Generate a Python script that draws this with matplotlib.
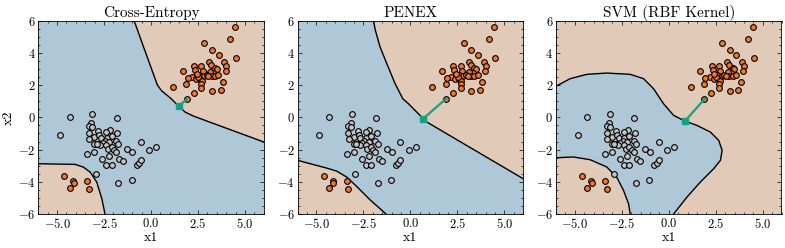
import numpy as np
import matplotlib
matplotlib.use("Agg")
import matplotlib.pyplot as plt
from matplotlib.ticker import MultipleLocator

plt.rcParams.update({
    "font.family": "serif",
    "font.serif": ["cmr10"],
    "mathtext.fontset": "cm",
    "axes.formatter.use_mathtext": True,
    "axes.unicode_minus": True,
})

# ---------------- data ----------------
orange_x = [4.47, 4.20, 2.84, 3.24, 3.60, 4.52, 3.10, 3.90, 3.21, 2.29, 2.68, 3.40, 4.01,
            1.68, 2.34, 2.75, 3.49, 3.97, 3.31, 3.14, 2.57, 2.82, 2.18, 1.95, 2.39, 2.61,
            3.23, 3.40, 3.58, 2.71, 2.68, 1.88, 3.83, 1.17, 2.68, 2.27, 3.24, 3.71, 1.90,
            2.51, 2.96, 3.05, 2.43,
            -4.61, -4.13, -4.10, -4.33, -3.39, -3.30]
orange_y = [5.61, 4.89, 4.62, 4.20, 3.89, 3.68, 3.42, 3.44, 3.23, 3.19, 3.17, 3.06, 3.17,
            2.86, 2.92, 2.88, 3.00, 2.90, 2.75, 2.82, 2.65, 2.57, 2.53, 2.44, 2.36, 2.38,
            2.59, 2.59, 2.65, 2.26, 2.09, 2.05, 2.22, 1.90, 1.82, 1.51, 1.64, 1.70, 1.12,
            2.51, 2.61, 2.55, 2.67,
            -3.64, -3.98, -4.08, -4.37, -3.93, -4.47]

grey_x = [-4.33, -4.84, -3.12, -1.83, -3.19, -3.30, -3.14, -3.30, -2.80, -2.18, -2.39, -1.79,
          -3.01, -2.75, -2.66, -3.28, -2.36, -2.09, -2.45, -2.22, -1.86, -1.74, -3.03, -2.80,
          -2.57, -2.71, -2.39, -2.30, -2.89, -2.09, -1.97, -1.86, -3.39, -3.01, -1.26, -0.99,
          -0.53, -0.09, 0.27, -2.59, -2.22, -2.39, -2.09, -1.68, -1.51, -0.76, -0.64, -0.53,
          -2.94, -1.74, -1.03]
grey_y = [0.04, -1.08, 0.19, -0.02, -0.33, -0.56, -0.60, -0.99, -0.85, -0.77, -0.91, -0.95,
          -1.22, -1.08, -1.28, -1.33, -1.26, -1.18, -1.47, -1.53, -1.47, -1.64, -1.64, -1.64,
          -1.59, -1.70, -1.74, -1.95, -1.66, -1.84, -2.05, -2.15, -2.26, -2.15, -1.95, -2.15,
          -1.53, -2.01, -1.86, -2.57, -2.42, -2.98, -2.98, -2.57, -2.73, -2.98, -2.84, -2.67,
          -3.50, -4.06, -3.91]

titles = ["Cross-Entropy", "PENEX", "SVM (RBF Kernel)"]

# support point and closest boundary point per model
support_pt = [(1.90, 1.12), (1.88, 1.14), (1.91, 1.14)]
boundary_pt = [(1.47, 0.70), (0.68, -0.08), (0.86, -0.23)]

# decision boundaries (upper boundary / lower-left boundary)
ce_upper_x = [-0.90, -0.50, -0.05, 0.34, 0.57, 1.01, 1.47, 1.81, 2.25, 6.0]
ce_upper_y = [6.0, 4.70, 3.25, 2.00, 1.64, 1.22, 0.70, 0.33, 0.08, -1.53]
ce_lower_x = [-6.0, -4.04, -3.60, -3.24, -2.89, -2.62, -2.45]
ce_lower_y = [-2.88, -2.92, -3.09, -3.40, -4.02, -5.05, -6.0]

px_upper_x = [-1.97, -1.87, -1.62, -1.26, -0.82, -0.41, -0.11, 0.68, 0.87, 6.0]
px_upper_y = [6.0, 5.42, 4.38, 3.34, 2.10, 1.16, 0.85, -0.08, -0.29, -3.81]
px_lower_x = [-6.0, -4.46, -3.92, -3.39, -2.86, -2.15, -1.30]
px_lower_y = [-2.67, -3.15, -3.34, -3.71, -4.29, -5.12, -6.0]

svm_outer_x = [-6.0, -5.25, -4.36, -3.30, -2.05, -1.34, -0.81, -0.28, 0.26, 0.86, 1.50,
               2.21, 2.66, 2.84, 2.75, 2.39, 1.68, 0.97, 0.26]
svm_outer_y = [1.93, 2.40, 2.67, 2.75, 2.67, 2.40, 1.78, 0.85, 0.12, -0.23, -0.50,
               -0.91, -1.43, -2.05, -2.67, -3.19, -4.02, -4.95, -6.0]
svm_inner_x = [-6.0, -5.09, -4.18, -3.30, -2.77, -2.41, -2.14, -2.05]
svm_inner_y = [-2.51, -2.46, -2.63, -3.08, -3.71, -4.53, -5.36, -6.0]

BLUE = "#afc8d7"
SALMON = "#e2cab9"
TEAL = "#17a084"
ORANGE = "#f5782a"
GREY = "#c4c4c4"

W, H = 785, 248
fig = plt.figure(figsize=(W / 100, H / 100), dpi=100)
lefts = [38.3, 297.7, 556.0]
aw = 225.5
bottom = (H - 214.0) / H
ah = (214.0 - 20.7) / H
axes = [fig.add_axes([l / W, bottom, aw / W, ah]) for l in lefts]


def blue_polygon_two(upper_x, upper_y, lower_x, lower_y):
    # region between upper boundary (top -> right edge) and lower-left boundary
    px = list(upper_x) + [6.0, lower_x[-1]] + list(lower_x[::-1]) + [-6.0, upper_x[0]]
    py = list(upper_y) + [-6.0, -6.0] + list(lower_y[::-1]) + [6.0, 6.0]
    return px, py


for i, ax in enumerate(axes):
    ax.set_xlim(-6, 6)
    ax.set_ylim(-6, 6)
    if i < 2:
        ax.set_facecolor(SALMON)
        if i == 0:
            ux, uy, lx, ly = ce_upper_x, ce_upper_y, ce_lower_x, ce_lower_y
        else:
            ux, uy, lx, ly = px_upper_x, px_upper_y, px_lower_x, px_lower_y
        bx, by = blue_polygon_two(ux, uy, lx, ly)
        ax.fill(bx, by, color=BLUE, lw=0, zorder=0.5)
        ax.plot(ux, uy, color="black", lw=1.0, zorder=1)
        ax.plot(lx, ly, color="black", lw=1.0, zorder=1)
    else:
        ax.set_facecolor(SALMON)
        bx = list(svm_outer_x) + list(svm_inner_x[::-1])
        by = list(svm_outer_y) + list(svm_inner_y[::-1])
        ax.fill(bx, by, color=BLUE, lw=0, zorder=0.5)
        ax.plot(svm_outer_x, svm_outer_y, color="black", lw=1.0, zorder=1)
        ax.plot(svm_inner_x, svm_inner_y, color="black", lw=1.0, zorder=1)

    ax.scatter(grey_x, grey_y, s=17, c=GREY, edgecolors="black", linewidths=0.8, zorder=3)
    ax.scatter(orange_x, orange_y, s=17, c=ORANGE, edgecolors="black", linewidths=0.8, zorder=3)

    sx, sy = support_pt[i]
    bxp, byp = boundary_pt[i]
    ax.plot([sx, bxp], [sy, byp], color=TEAL, lw=1.6, zorder=4)
    ax.plot([bxp], [byp], marker="s", ms=5, color=TEAL, zorder=5)

    ax.set_title(titles[i], fontsize=11, pad=3)
    ax.set_xlabel("x1", fontsize=10, labelpad=1)
    if i == 0:
        ax.set_ylabel("x2", fontsize=10, labelpad=2)
    ax.xaxis.set_major_locator(MultipleLocator(2.5))
    ax.xaxis.set_minor_locator(MultipleLocator(0.5))
    ax.yaxis.set_major_locator(MultipleLocator(2))
    ax.yaxis.set_minor_locator(MultipleLocator(0.5))
    ax.tick_params(which="both", direction="in", top=True, right=True, labelsize=9, pad=2)
    ax.tick_params(which="major", length=3, width=0.5)
    ax.tick_params(which="minor", length=1.5, width=0.5)
    for sp in ax.spines.values():
        sp.set_linewidth(0.6)

fig.savefig("out.png", dpi=100)
